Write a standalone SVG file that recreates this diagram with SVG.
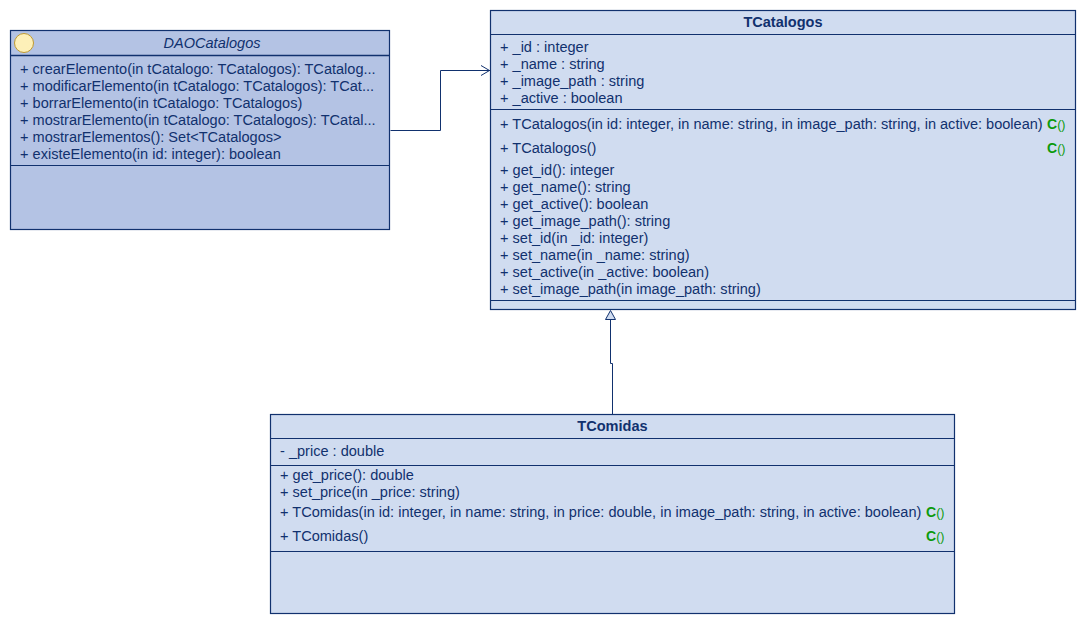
<svg xmlns="http://www.w3.org/2000/svg" width="1087" height="625" viewBox="0 0 1087 625">
<defs>
<style>
text{font-family:"Liberation Sans",Arial,sans-serif;font-size:14.55px;fill:#11316e}
.t{font-weight:bold;text-anchor:middle}
.i{font-style:italic;text-anchor:middle}
.c{font-weight:bold;fill:#0c9a0c;font-size:14px}
.p{font-weight:normal;fill:#0c9a0c;font-size:12.500px}
.cls{fill:#d0dcf0;stroke:#11316e;stroke-width:1.2}
.dao{fill:#b4c3e4}
.sep{stroke:#11316e;stroke-width:1;fill:none}
.hd{stroke:#11316e;stroke-width:1.5;fill:none}
.con{stroke:#11316e;stroke-width:1;fill:none}
</style>
</defs>
<rect width="1087" height="625" fill="#ffffff"/>
<g id="connectors">
<path class="con" d="M390.500 130.500H440.500V70.500H490"/>
<path class="con" d="M481 65.500L489.500 70.500L481 75.500"/>
<path class="con" d="M612.500 414V363.500H610.500V320"/>
<polygon points="610.500,310.500 605.500,319.500 615.500,319.500" fill="#d0dcf0" stroke="#11316e" stroke-width="1"/>
</g>
<g id="DAOCatalogos">
<rect class="cls dao" x="10.500" y="30.500" width="379" height="199"/>
<circle cx="24" cy="43" r="9.500" fill="#fdf0b8" stroke="#c09a30" stroke-width="1"/>
<text class="i" x="212" y="48">DAOCatalogos</text>
<path class="hd" d="M11 55.500H389"/>
<text x="20" y="74">+ crearElemento(in tCatalogo: TCatalogos): TCatalog...</text>
<text x="20" y="91">+ modificarElemento(in tCatalogo: TCatalogos): TCat...</text>
<text x="20" y="108">+ borrarElemento(in tCatalogo: TCatalogos)</text>
<text x="20" y="125">+ mostrarElemento(in tCatalogo: TCatalogos): TCatal...</text>
<text x="20" y="142">+ mostrarElementos(): Set&lt;TCatalogos&gt;</text>
<text x="20" y="159">+ existeElemento(in id: integer): boolean</text>
<path class="sep" d="M11 165.500H389"/>
</g>
<g id="TCatalogos">
<rect class="cls" x="490.500" y="10.500" width="585" height="299"/>
<text class="t" x="783" y="27">TCatalogos</text>
<path class="sep" d="M491 34.500H1075"/>
<text x="500" y="52">+ _id : integer</text>
<text x="500" y="69">+ _name : string</text>
<text x="500" y="86">+ _image_path : string</text>
<text x="500" y="103">+ _active : boolean</text>
<path class="sep" d="M491 109.500H1075"/>
<text x="500" y="129">+ TCatalogos(in id: integer, in name: string, in image_path: string, in active: boolean)</text>
<text class="c" x="1047" y="129">C<tspan class="p">()</tspan></text>
<text x="500" y="153">+ TCatalogos()</text>
<text class="c" x="1047" y="153">C<tspan class="p">()</tspan></text>
<text x="500" y="175">+ get_id(): integer</text>
<text x="500" y="192">+ get_name(): string</text>
<text x="500" y="209">+ get_active(): boolean</text>
<text x="500" y="226">+ get_image_path(): string</text>
<text x="500" y="243">+ set_id(in _id: integer)</text>
<text x="500" y="260">+ set_name(in _name: string)</text>
<text x="500" y="277">+ set_active(in _active: boolean)</text>
<text x="500" y="294">+ set_image_path(in image_path: string)</text>
<path class="sep" d="M491 300.500H1075"/>
</g>
<g id="TComidas">
<rect class="cls" x="270.500" y="414.500" width="684" height="199"/>
<text class="t" x="612.500" y="431">TComidas</text>
<path class="sep" d="M271 438.500H954"/>
<text x="280" y="456">- _price : double</text>
<path class="sep" d="M271 465.500H954"/>
<text x="280" y="480">+ get_price(): double</text>
<text x="280" y="497">+ set_price(in _price: string)</text>
<text x="280" y="517">+ TComidas(in id: integer, in name: string, in price: double, in image_path: string, in active: boolean)</text>
<text class="c" x="926" y="517">C<tspan class="p">()</tspan></text>
<text x="280" y="541">+ TComidas()</text>
<text class="c" x="926" y="541">C<tspan class="p">()</tspan></text>
<path class="sep" d="M271 551.500H954"/>
</g>
</svg>
